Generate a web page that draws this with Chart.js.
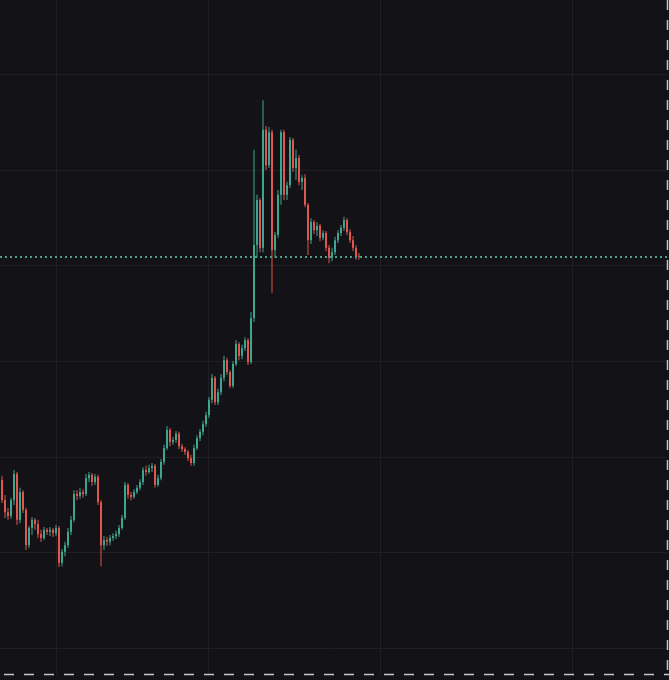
<!DOCTYPE html>
<html>
<head>
<meta charset="utf-8">
<script src="https://cdn.jsdelivr.net/npm/chart.js@4"></script>
<style>
  html, body { margin: 0; padding: 0; background: #131317; }
  #wrap { width: 669px; height: 680px; }
</style>
</head>
<body>
<div id="wrap"><canvas id="priceChart"></canvas></div>
<script>
// OHLC per candle
const opens = [
  0.552, 0.510, 0.485, 0.477, 0.510, 0.565, 0.469, 0.527, 0.490, 0.416,
  0.452, 0.469, 0.460, 0.439, 0.431, 0.448, 0.444, 0.448, 0.441, 0.452,
  0.379, 0.402, 0.416, 0.444, 0.469, 0.523, 0.519, 0.527, 0.523, 0.556,
  0.563, 0.548, 0.559, 0.506, 0.416, 0.427, 0.423, 0.431, 0.435, 0.439,
  0.452, 0.473, 0.542, 0.521, 0.517, 0.527, 0.536, 0.548, 0.573, 0.569,
  0.577, 0.582, 0.542, 0.556, 0.590, 0.619, 0.657, 0.632, 0.636, 0.649,
  0.623, 0.617, 0.611, 0.598, 0.588, 0.619, 0.640, 0.653, 0.669, 0.688,
  0.720, 0.766, 0.715, 0.736, 0.766, 0.803, 0.778, 0.749, 0.795, 0.837,
  0.812, 0.828, 0.845, 0.799, 0.891, 1.044, 1.138, 1.038, 1.285, 1.211,
  1.280, 1.033, 1.065, 1.149, 1.280, 1.149, 1.169, 1.264, 1.205, 1.226,
  1.176, 1.184, 1.128, 1.054, 1.092, 1.075, 1.084, 1.059, 1.069, 1.038,
  1.017, 1.029, 1.054, 1.069, 1.080, 1.096, 1.071, 1.054, 1.038, 1.021
];
const highs = [
  0.561, 0.521, 0.494, 0.515, 0.573, 0.569, 0.536, 0.531, 0.494, 0.456,
  0.475, 0.473, 0.469, 0.448, 0.454, 0.452, 0.454, 0.452, 0.458, 0.456,
  0.408, 0.423, 0.452, 0.477, 0.531, 0.531, 0.536, 0.533, 0.565, 0.569,
  0.567, 0.565, 0.563, 0.510, 0.435, 0.433, 0.437, 0.441, 0.446, 0.458,
  0.479, 0.548, 0.546, 0.527, 0.533, 0.542, 0.554, 0.579, 0.582, 0.584,
  0.588, 0.586, 0.563, 0.596, 0.626, 0.665, 0.661, 0.642, 0.655, 0.653,
  0.628, 0.621, 0.615, 0.605, 0.626, 0.646, 0.659, 0.676, 0.695, 0.726,
  0.774, 0.770, 0.743, 0.774, 0.812, 0.808, 0.782, 0.801, 0.845, 0.841,
  0.835, 0.851, 0.849, 0.904, 1.243, 1.149, 1.142, 1.347, 1.293, 1.291,
  1.285, 1.071, 1.159, 1.285, 1.285, 1.176, 1.270, 1.268, 1.243, 1.232,
  1.190, 1.192, 1.132, 1.100, 1.096, 1.092, 1.088, 1.075, 1.073, 1.044,
  1.038, 1.061, 1.075, 1.086, 1.103, 1.100, 1.077, 1.063, 1.044, 1.027
];
const lows = [
  0.504, 0.473, 0.469, 0.471, 0.500, 0.458, 0.462, 0.483, 0.406, 0.410,
  0.437, 0.448, 0.431, 0.423, 0.427, 0.437, 0.435, 0.433, 0.435, 0.370,
  0.372, 0.393, 0.410, 0.437, 0.464, 0.510, 0.513, 0.515, 0.519, 0.548,
  0.540, 0.542, 0.500, 0.372, 0.406, 0.414, 0.416, 0.425, 0.429, 0.433,
  0.448, 0.469, 0.513, 0.510, 0.513, 0.523, 0.531, 0.542, 0.561, 0.565,
  0.569, 0.536, 0.538, 0.552, 0.584, 0.615, 0.623, 0.626, 0.630, 0.617,
  0.611, 0.605, 0.592, 0.582, 0.582, 0.615, 0.634, 0.646, 0.663, 0.682,
  0.713, 0.709, 0.709, 0.730, 0.759, 0.772, 0.745, 0.745, 0.791, 0.803,
  0.805, 0.822, 0.793, 0.795, 0.883, 1.017, 1.029, 1.029, 1.201, 1.205,
  0.944, 1.017, 1.059, 1.128, 1.138, 1.138, 1.163, 1.197, 1.180, 1.169,
  1.159, 1.123, 1.023, 1.046, 1.067, 1.063, 1.052, 1.054, 1.031, 1.006,
  1.010, 1.023, 1.048, 1.063, 1.073, 1.065, 1.048, 1.031, 1.013, 1.013
];
const closes = [
  0.510, 0.485, 0.477, 0.510, 0.565, 0.469, 0.527, 0.490, 0.416, 0.452,
  0.469, 0.460, 0.439, 0.431, 0.448, 0.444, 0.448, 0.441, 0.452, 0.379,
  0.402, 0.416, 0.444, 0.469, 0.523, 0.519, 0.527, 0.523, 0.556, 0.563,
  0.548, 0.559, 0.506, 0.416, 0.427, 0.423, 0.431, 0.435, 0.439, 0.452,
  0.473, 0.542, 0.521, 0.517, 0.527, 0.536, 0.548, 0.573, 0.569, 0.577,
  0.582, 0.542, 0.556, 0.590, 0.619, 0.657, 0.632, 0.636, 0.649, 0.623,
  0.617, 0.611, 0.598, 0.588, 0.619, 0.640, 0.653, 0.669, 0.688, 0.720,
  0.766, 0.715, 0.736, 0.766, 0.803, 0.778, 0.749, 0.795, 0.837, 0.812,
  0.828, 0.845, 0.799, 0.891, 1.044, 1.138, 1.038, 1.285, 1.211, 1.280,
  1.033, 1.065, 1.149, 1.280, 1.149, 1.169, 1.264, 1.205, 1.226, 1.176,
  1.184, 1.128, 1.054, 1.092, 1.075, 1.084, 1.059, 1.069, 1.038, 1.017,
  1.029, 1.054, 1.069, 1.080, 1.096, 1.071, 1.054, 1.038, 1.021, 1.019
];

// grid positions (candle index on x, price on y)
const timeGridTicks = [18.33, 68.67, 126.33, 190.33];
const priceGridTicks = [0.2, 0.4, 0.6, 0.8, 1.0, 1.2, 1.4];

// visible window
const xMin = -0.667, xMax = 221.667;
const yMin = 0.1464, yMax = 1.5565;

const upColor = '#3ea58e';
const downColor = '#e0574f';
const gridColor = '#1f2026';
const edgeColor = '#c4c7cc';

const candleColors = closes.map((c, i) => c >= opens[i] ? upColor : downColor);
const lastClose = closes[closes.length - 1];

const bodies = closes.map((c, i) => ({ x: i, y: [opens[i], c] }));
const wicks = closes.map((c, i) => ({ x: i, y: [lows[i], highs[i]] }));

// dashed pane edges on the right and bottom
const paneEdges = {
  id: 'paneEdges',
  afterDraw(chart) {
    const { ctx, chartArea: a } = chart;
    ctx.save();
    ctx.strokeStyle = edgeColor;
    ctx.lineWidth = 1.5;
    ctx.setLineDash([10, 10]);
    ctx.lineDashOffset = 16;
    ctx.beginPath();
    ctx.moveTo(a.left, a.bottom + 0.5);
    ctx.lineTo(a.right + 2, a.bottom + 0.5);
    ctx.stroke();
    ctx.lineDashOffset = 0;
    ctx.beginPath();
    ctx.moveTo(a.right + 0.5, a.top);
    ctx.lineTo(a.right + 0.5, a.bottom);
    ctx.stroke();
    ctx.restore();
  }
};

const ctx = document.getElementById('priceChart').getContext('2d');
new Chart(ctx, {
  type: 'bar',
  data: {
    datasets: [
      {
        type: 'line',
        data: [{ x: xMin, y: lastClose }, { x: xMax, y: lastClose }],
        borderColor: '#4e9c8c',
        borderWidth: 2,
        borderDash: [2, 3],
        pointRadius: 0,
        order: 0
      },
      {
        data: bodies,
        backgroundColor: candleColors,
        barThickness: 2,
        borderWidth: 0,
        inflateAmount: 0,
        grouped: false,
        order: 1
      },
      {
        data: wicks,
        backgroundColor: candleColors,
        barThickness: 1,
        borderWidth: 0,
        inflateAmount: 0,
        grouped: false,
        order: 2
      }
    ]
  },
  options: {
    responsive: true,
    maintainAspectRatio: false,
    animation: false,
    events: [],
    layout: { padding: { top: 0, left: 0, right: 2, bottom: 6 } },
    plugins: {
      legend: { display: false },
      tooltip: { enabled: false }
    },
    scales: {
      x: {
        type: 'linear',
        min: xMin,
        max: xMax,
        offset: false,
        afterBuildTicks: scale => { scale.ticks = timeGridTicks.map(v => ({ value: v })); },
        grid: { color: gridColor, drawTicks: false, offset: false },
        ticks: { display: false },
        border: { display: false }
      },
      y: {
        type: 'linear',
        position: 'right',
        min: yMin,
        max: yMax,
        afterBuildTicks: scale => { scale.ticks = priceGridTicks.map(v => ({ value: v })); },
        grid: { color: gridColor, drawTicks: false },
        ticks: { display: false },
        border: { display: false }
      }
    }
  },
  plugins: [paneEdges]
});
</script>
</body>
</html>
